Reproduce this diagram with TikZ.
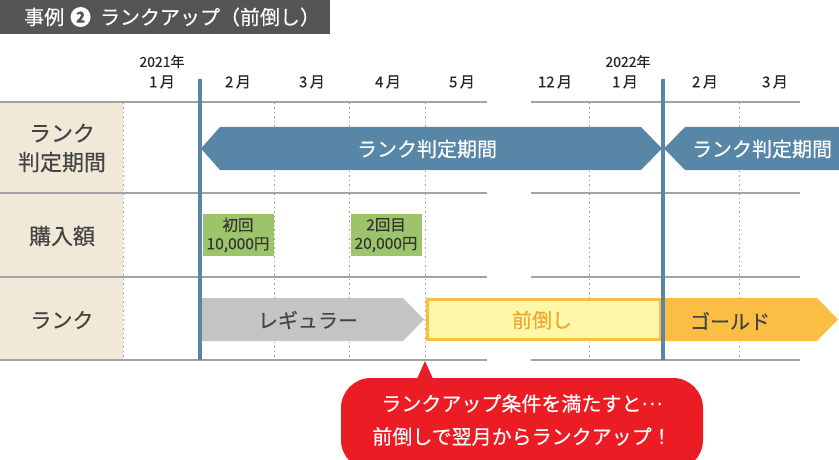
\documentclass[tikz,border=0pt]{standalone}
\usepackage{fontspec}
\setmainfont{Noto Sans CJK JP}[FakeBold=0.35]
\usetikzlibrary{positioning}
\definecolor{ink}{HTML}{444444}
\definecolor{titlegray}{HTML}{555555}
\definecolor{beige}{HTML}{F1E9D8}
\definecolor{gridgray}{HTML}{A3A3A3}
\definecolor{steel}{HTML}{5886A6}
\definecolor{leaf}{HTML}{9DC46B}
\definecolor{silver}{HTML}{C4C4C4}
\definecolor{lemon}{HTML}{FFF7A8}
\definecolor{gold}{HTML}{FBBE45}
\definecolor{amberink}{HTML}{EFA52E}
\definecolor{signal}{HTML}{EC1C24}

\begin{document}
\begin{tikzpicture}[x=1pt, y=-1pt,
  fz/.style={font=\fontsize{#1}{#1}\selectfont},
  mon/.style={fz=15, text=black!85, inner sep=0pt},
  yr/.style={fz=14, text=black!85, inner sep=0pt},
  rowlbl/.style={fz=21, text=ink, align=center, inner sep=0pt},
  buy/.style={fill=leaf, minimum width=71pt, minimum height=42pt, inner sep=0pt,
              align=center, text=black!80, font=\fontsize{15.5}{18.5}\selectfont},
  gl/.style={draw=gridgray, line width=1.1pt},
  dots/.style={draw=gridgray, line width=0.8pt, dash pattern=on 1.5pt off 3pt},
  sep/.style={draw=steel, line width=4pt},
  bandtxt/.style={fz=20, text=white, inner sep=0pt}]

\useasboundingbox (0,0) rectangle (839,460);

% title
\fill[titlegray] (0,0) rectangle (330,34);
\node[fz=20, text=white, anchor=west, inner sep=0pt] (t1) at (24,17) {事例};
\node[circle, fill=white, minimum size=20pt, inner sep=0pt, right=6pt of t1,
      text=titlegray, font=\fontsize{15}{15}\selectfont\bfseries] (t2) {2};
\node[fz=20, text=white, anchor=west, inner sep=0pt, right=9pt of t2] (t3) {ランクアップ（前倒し）};

% header
\foreach \x/\m [count=\i] in {162/1,238/2,312/3,388/4,462/5,555/12,625/1,705/2,775/3}
  \node[mon] (m\i) at (\x,82) {\m\,月};
\node[yr, above=7pt of m1] (y1) {2021年};
\node[yr, above=7pt of m7, xshift=3pt] (y2) {2022年};

% table
\fill[beige] (0,102) rectangle (123,360);
\foreach \y in {102,193,277,360} {
  \draw[gl] (0,\y) -- (487,\y);
  \draw[gl] (531,\y) -- (800,\y);
}
\foreach \x in {123,274,349,425,589,739}
  \draw[dots] (\x,103) -- (\x,359);

\node[rowlbl, font=\fontsize{22}{29}\selectfont] (r1) at (62,148) {ランク\\判定期間};
\node[rowlbl, fz=22] (r2) at (62,236) {購入額};
\node[rowlbl, fz=21] (r3) at (62,320) {ランク};

% rank periods
\fill[steel] (201,148.5) -- (220,127) -- (641,127) -- (662,148.5) -- (641,170) -- (220,170) -- cycle;
\fill[steel] (664,148.5) -- (685,127) -- (839,127) -- (839,170) -- (685,170) -- cycle;
\node[bandtxt] (p1) at (427,149) {ランク判定期間};
\node[bandtxt] (p2) at (762,149) {ランク判定期間};

% purchases
\node[buy] (b1) at (238,235) {初回\\10,000円};
\node[buy] (b2) at (386,235) {2回目\\20,000円};

% ranks
\fill[silver] (202,298) -- (403,298) -- (424,319.5) -- (403,341) -- (202,341) -- cycle;
\node[fz=20, text=ink, inner sep=0pt] (k1) at (308,320) {レギュラー};
\fill[gold] (660,298) -- (817,298) -- (838,319.5) -- (817,341) -- (660,341) -- cycle;
\draw[draw=gold, fill=lemon, line width=2.5pt] (427.5,299.5) rectangle (660,339.5);
\node[fz=20, text=amberink, inner sep=0pt] (k2) at (542,320) {前倒し};
\node[fz=20, text=ink, inner sep=0pt] (k3) at (730,321) {ゴールド};

% period boundaries
\draw[sep] (200,79) -- (200,360);
\draw[sep] (663,79) -- (663,360);

% callout
\coordinate (tip) at (425,361);
\fill[signal, rounded corners=30pt] (341,378) rectangle (703,470);
\fill[signal] (416,381) -- (tip) -- (434,381) -- cycle;
\node[text=white, align=center, inner sep=0pt, font=\fontsize{20}{33}\selectfont] (c1) at (522,420)
  {ランクアップ条件を満たすと\raisebox{.3em}{…}\\前倒しで翌月からランクアップ！};
\end{tikzpicture}
\end{document}
